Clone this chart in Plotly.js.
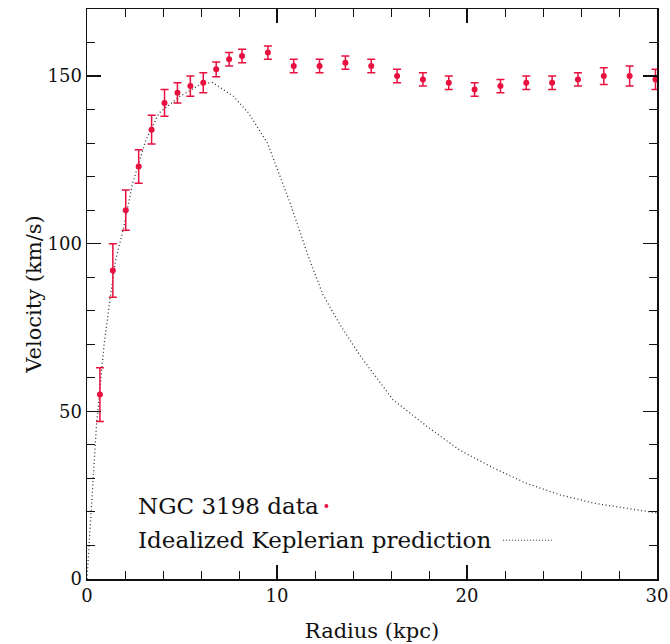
<!DOCTYPE html>
<html>
<head>
<meta charset="utf-8">
<script src="https://cdn.plot.ly/plotly-3.0.1.min.js"></script>
<style>html,body{margin:0;padding:0;background:#fff;}#chart{width:670px;height:644px;}</style>
</head>
<body>
<div id="chart"></div>
<script>
// NGC 3198 rotation curve data
var radius = [0.68,1.36,2.04,2.72,3.40,4.08,4.76,5.44,6.12,6.80,7.48,8.16,9.52,10.88,12.24,13.60,14.96,16.32,17.68,19.04,20.40,21.76,23.12,24.48,25.84,27.20,28.56,29.92];
var velocity = [55,92,110,123,134,142,145,147,148,152,155,156,157,153,153,154,153,150,149,148,146,147,148,148,149,150,150,149];
var velErr = [8,8,6,5,4.3,4,3,3,3,2.2,2,2,2,2,2,2,2,2,2,2,2,2,2,2,2,2.5,3,3];

// Idealized Keplerian prediction curve
var kepR = [0,0.1,0.2,0.35,0.5,0.7,0.9,1.2,1.5,1.9,2.4,3.1,3.8,4.9,6.0,6.6,7.7,8.5,9.5,10.7,11.6,12.4,13.3,14.4,16.1,17.9,19.6,21.4,23.1,24.9,26.7,28.4,30];
var kepV = [0,9,19,34,46,58,70,83,95,104,118,131,139,144,147.6,148.1,144,139,130,112,97,85,76,66.4,53.5,45.5,38.5,33.1,28.6,25.1,22.6,21.1,19.7];

var legendLabels = ["NGC 3198 data", "Idealized Keplerian prediction"];

var red = "#e8103f";
var traces = [
  {x: kepR, y: kepV, mode: "lines", line: {color: "#333", width: 1.3, dash: "1px,2.6px"}, hoverinfo: "skip", showlegend: false},
  {x: radius, y: velocity, mode: "markers", marker: {color: red, size: 6},
   error_y: {type: "data", array: velErr, visible: true, color: red, thickness: 1.5, width: 4}, showlegend: false}
];

var tickFont = {family: "DejaVu Serif, serif", size: 18, color: "#111"};
var titleFont = {family: "DejaVu Serif, serif", size: 21, color: "#111"};
var legFont = {family: "DejaVu Serif, serif", size: 23, color: "#111"};
var layout = {
  width: 670, height: 644,
  margin: {l: 87, r: 13, t: 9, b: 65},
  paper_bgcolor: "#fff", plot_bgcolor: "#fff",
  showlegend: false,
  xaxis: {
    range: [0, 30], tickvals: [0, 10, 20, 30], ticks: "inside", ticklen: 14, tickwidth: 1.2, tickcolor: "#111",
    minor: {dtick: 2, ticks: "inside", ticklen: 8, tickwidth: 1, tickcolor: "#111"},
    showline: true, linecolor: "#111", linewidth: 1.5, mirror: "allticks", showgrid: false, zeroline: false,
    tickfont: tickFont,
    title: {text: "Radius (kpc)", font: titleFont, standoff: 18}
  },
  yaxis: {
    range: [0, 170], tickvals: [0, 50, 100, 150], ticks: "inside", ticklen: 14, tickwidth: 1.2, tickcolor: "#111",
    minor: {dtick: 10, ticks: "inside", ticklen: 8, tickwidth: 1, tickcolor: "#111"},
    showline: true, linecolor: "#111", linewidth: 1.5, mirror: "allticks", showgrid: false, zeroline: false,
    tickfont: tickFont,
    title: {text: "Velocity (km/s)", font: titleFont, standoff: 0}
  },
  annotations: [
    {xref: "paper", yref: "paper", x: 0.086, y: 0.128, xanchor: "left", yanchor: "middle", showarrow: false,
     text: legendLabels[0], font: legFont},
    {xref: "paper", yref: "paper", x: 0.086, y: 0.068, xanchor: "left", yanchor: "middle", showarrow: false,
     text: legendLabels[1], font: legFont}
  ],
  shapes: [
    {type: "circle", xref: "paper", yref: "paper", x0: 0.4165, x1: 0.4235, y0: 0.1245, y1: 0.1315, fillcolor: red, line: {width: 0}},
    {type: "line", xref: "paper", yref: "paper", x0: 0.73, x1: 0.818, y0: 0.068, y1: 0.068, line: {color: "#333", width: 1, dash: "1px,2px"}}
  ]
};

Plotly.newPlot("chart", traces, layout, {staticPlot: true, displayModeBar: false});
</script>
</body>
</html>
